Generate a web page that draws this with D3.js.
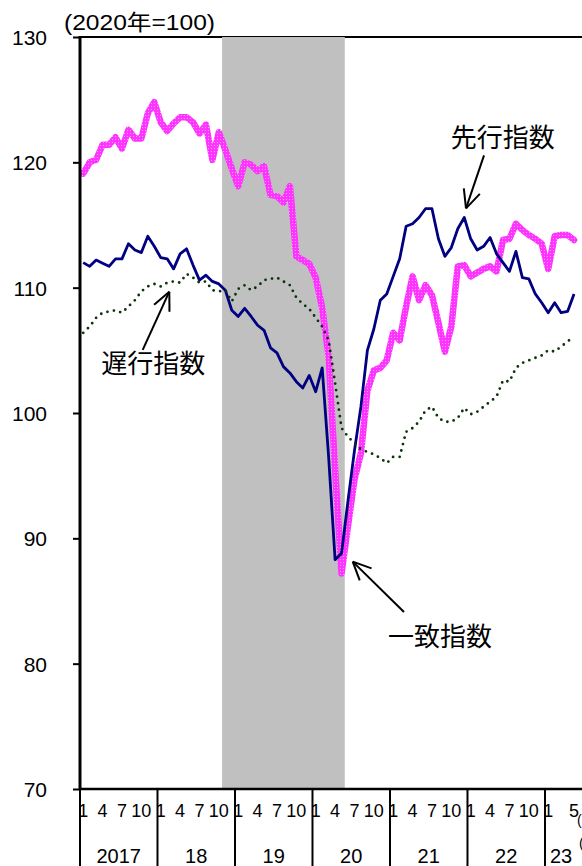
<!DOCTYPE html>
<html><head><meta charset="utf-8">
<script src="https://cdn.jsdelivr.net/npm/d3@7"></script>
<style>
html,body{margin:0;padding:0;background:#fff;}
svg{display:block;}
text{font-family:"Liberation Sans",Arial,sans-serif;fill:#000;}
.cjk{font-family:"Noto Sans CJK JP","Liberation Sans",sans-serif;}
</style></head>
<body>
<svg id="c" width="582" height="866"></svg>
<script>
// ---- data (2017/01 .. 2023/05, monthly) ----
const years = ["2017","18","19","20","21","22","23"];
const monthsInYear = [12,12,12,12,12,12,5];
const monthTickLabels = [1,4,7,10];
const lastYearTickLabels = [1,5];
const yTicks = [70,80,90,100,110,120,130];
const yTitle = "(2020年=100)";

const leading = [
 119.1,120.0,120.2,121.4,121.4,122.0,121.1,122.6,121.9,121.9,123.9,124.8,
 123.2,122.5,123.1,123.6,123.6,123.2,122.3,123.0,120.2,122.4,121.0,119.5,
 118.1,120.0,119.8,119.3,119.7,117.4,117.3,116.8,118.1,112.5,112.2,111.9,
 110.8,108.4,104.5,95.5,87.2,91.0,94.7,96.8,101.8,103.4,103.6,104.2,
 106.4,105.8,108.5,110.9,109.0,110.2,109.4,107.2,104.9,106.9,111.7,111.8,
 110.9,111.2,111.5,111.7,111.3,113.8,113.9,115.1,114.6,114.2,113.9,113.5,
 111.5,114.1,114.2,114.2,113.8
];
const coincident = [
 112.0,111.7,112.2,111.95,111.7,112.3,112.3,113.5,113.0,112.8,114.1,113.3,
 112.4,112.3,111.5,112.7,113.1,111.8,110.6,111.0,110.5,110.3,109.8,108.2,
 107.7,108.35,107.7,107.0,106.6,105.2,104.8,103.7,103.2,102.5,102.0,103.0,
 101.7,103.6,96.5,88.3,88.8,93.0,97.0,100.5,105.0,106.7,109.0,109.5,
 110.9,112.3,114.9,115.1,115.6,116.3,116.3,113.9,112.5,113.2,114.7,115.6,
 113.9,113.0,113.3,114.0,112.7,112.0,111.3,112.9,110.8,110.7,109.5,108.8,
 108.0,108.8,108.0,108.1,109.5
];
const lagging = [
 106.4,106.9,107.6,108.0,108.1,108.2,108.0,108.5,109.0,109.7,110.1,110.3,
 110.1,110.4,110.5,110.4,111.1,110.8,110.4,110.5,109.8,109.7,109.8,108.9,
 109.9,110.2,109.8,110.1,110.6,110.7,110.8,110.5,110.2,109.2,108.7,108.3,
 107.6,106.9,105.8,102.4,98.8,98.1,97.6,97.1,96.9,96.7,96.4,96.0,
 96.5,96.5,98.5,98.8,99.3,100.2,100.5,99.6,99.3,99.3,99.6,100.4,
 99.9,100.1,100.5,100.9,101.3,102.6,102.5,103.6,104.0,104.2,104.4,104.6,
 105.0,104.9,105.3,105.7,106.1
];
// recession shading: first and last shaded month index
const shadeFrom = 22, shadeTo = 40;
// annotations: [label, tipIdx, tipVal, tailIdx, tailVal, textIdx, textVal]
const notes = [
 ["先行指数", 59.27,116.33, 62.06,120.56, 56.9,121.2],
 ["遅行指数", 13.33,109.68, 9.21,105.03, 2.8,103.2],
 ["一致指数", 41.73,88.14, 49.67,84.12, 47.2,81.4]
];

// ---- layout ----
const svg = d3.select("#c");
const L = 80, T = 37, B = 789, MW = 6.458, W = 582, H = 866;
const N = leading.length;
const x = d3.scaleBand().domain(d3.range(N)).range([L, L + N*MW]).padding(0);
const xc = i => x(i) + x.bandwidth()/2;
const xf = v => L + (v + 0.5)*MW; // fractional month position (annotations)
const y = d3.scaleLinear().domain([70,130]).range([B, T]);

// pattern for leading line texture
const defs = svg.append("defs");
const pat = defs.append("pattern").attr("id","pk").attr("patternUnits","userSpaceOnUse")
  .attr("width",3).attr("height",3);
pat.append("rect").attr("width",3).attr("height",3).attr("fill","#ff33ff");
pat.append("rect").attr("x",1).attr("y",1).attr("width",1).attr("height",1).attr("fill","#ff9cff");

// top frame line
svg.append("line").attr("x1",L).attr("x2",W).attr("y1",T).attr("y2",T)
  .attr("stroke","#000").attr("stroke-width",2);

// shade
svg.append("rect").attr("x", x(shadeFrom)).attr("y", T)
  .attr("width", x(shadeTo) + x.bandwidth() - x(shadeFrom)).attr("height", B - T)
  .attr("fill","#c0c0c0");

// series
const line = d3.line().x((d,i)=>xc(i)).y(d=>y(d));
svg.append("path").datum(leading).attr("d",line).attr("fill","none")
  .attr("stroke","url(#pk)").attr("stroke-width",6.5).attr("stroke-linejoin","round").attr("stroke-linecap","round");
svg.append("path").datum(coincident).attr("d",line).attr("fill","none")
  .attr("stroke","#000080").attr("stroke-width",2.8).attr("stroke-linejoin","round");
svg.append("path").datum(lagging).attr("d",line).attr("fill","none")
  .attr("stroke","#0a330a").attr("stroke-width",2.8).attr("stroke-linecap","round")
  .attr("stroke-dasharray","0 6.6");

// y axis
const ya = svg.append("g").attr("transform",`translate(${L},0)`)
  .call(d3.axisLeft(y).tickValues(yTicks).tickSize(7).tickPadding(26).tickFormat(d3.format("d")));
ya.select(".domain").remove();
ya.selectAll(".tick line").attr("stroke","#000").attr("stroke-width",2);
ya.selectAll(".tick text").attr("font-size",21).attr("font-family","Liberation Sans, Arial, sans-serif")
  .attr("dy","0.36em");
svg.append("line").attr("x1",L).attr("x2",L).attr("y1",T-1).attr("y2",B+1)
  .attr("stroke","#000").attr("stroke-width",3);

// x axis line
svg.append("line").attr("x1",L).attr("x2",W).attr("y1",B).attr("y2",B)
  .attr("stroke","#000").attr("stroke-width",2.5);

// year dividers and labels
let start = 0;
years.forEach((yr, k) => {
  const n = monthsInYear[k];
  const x0 = x(start);
  svg.append("line").attr("x1",x0).attr("x2",x0).attr("y1",B).attr("y2",H)
    .attr("stroke","#000").attr("stroke-width",2);
  const labs = k === years.length-1 ? lastYearTickLabels : monthTickLabels;
  labs.forEach(m => {
    svg.append("text").attr("x", xc(start + m - 1)).attr("y", 817)
      .attr("text-anchor","middle").attr("font-size",18).text(m);
  });
  const cx = (x(start) + x(start+n-1) + x.bandwidth())/2;
  svg.append("text").attr("x", cx).attr("y", 863).attr("text-anchor","middle")
    .attr("font-size",20).text(yr);
  start += n;
});
svg.append("text").attr("x",577).attr("y",825).attr("font-size",14).text("(月)");
svg.append("text").attr("x",579).attr("y",848).attr("font-size",14).text("(年)");

// y title
svg.append("text").attr("x",64).attr("y",30).attr("font-size",22)
  .attr("textLength",151).attr("lengthAdjust","spacingAndGlyphs")
  .style("font-family","'Liberation Sans','Noto Sans CJK JP',sans-serif")
  .text(yTitle);

// annotations
notes.forEach(([lab, ti, tv, si, sv, li, lv]) => {
  const tx = xf(ti), ty = y(tv), sx = xf(si), sy = y(sv);
  const g = svg.append("g").attr("stroke","#000").attr("stroke-width",2).attr("fill","none");
  g.append("line").attr("x1",sx).attr("y1",sy).attr("x2",tx).attr("y2",ty);
  const ang = Math.atan2(sy-ty, sx-tx), a = 25*Math.PI/180, len = 20;
  [ang-a, ang+a].forEach(t => {
    g.append("line").attr("x1",tx).attr("y1",ty)
      .attr("x2",tx+len*Math.cos(t)).attr("y2",ty+len*Math.sin(t));
  });
  svg.append("text").attr("class","cjk").attr("x",xf(li)).attr("y",y(lv))
    .attr("font-size",26).text(lab);
});
</script>
</body></html>
